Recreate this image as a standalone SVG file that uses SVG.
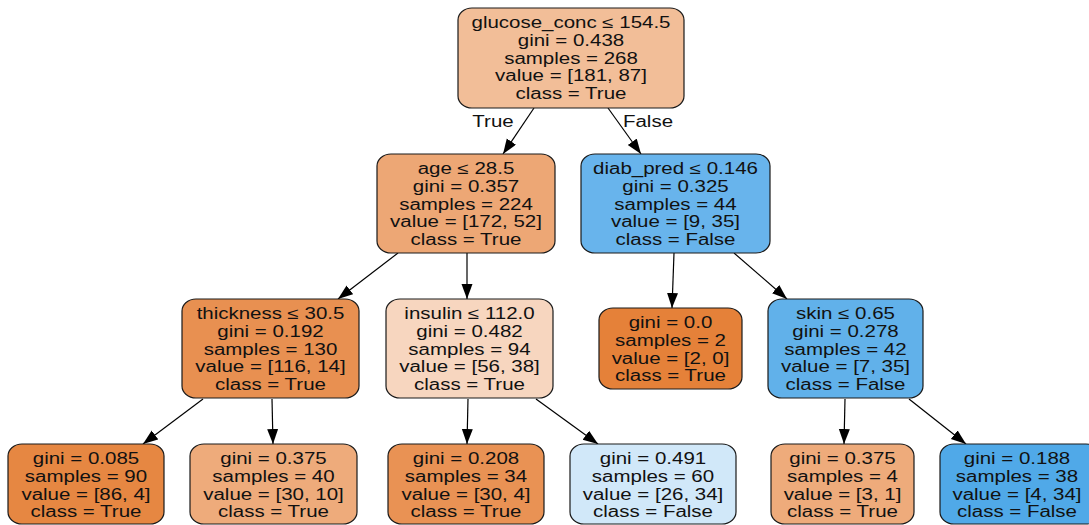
<svg xmlns="http://www.w3.org/2000/svg" width="1089" height="525" viewBox="0 0 1089 525">
<style>
.box{stroke:#1a1a1a;stroke-width:1.2}
text{font-family:"Liberation Sans",Arial,Helvetica,sans-serif;font-size:16px;fill:#111;text-anchor:middle}
.edge{stroke:#000;stroke-width:1.2;fill:none;marker-end:url(#ah)}
</style>
<defs>
<marker id="ah" markerUnits="userSpaceOnUse" markerWidth="16" markerHeight="12" refX="15" refY="5.5" orient="auto">
<path d="M0,0 L15,5.5 L0,11 Z" fill="#000"/>
</marker>
</defs>
<rect width="1089" height="525" fill="#fff"/>
<g id="connectors">
<line class="edge" x1="534" y1="108" x2="503" y2="154"/>
<line class="edge" x1="608" y1="108" x2="641" y2="154"/>
<line class="edge" x1="398" y1="253" x2="338" y2="299"/>
<line class="edge" x1="467" y1="253" x2="467" y2="299"/>
<line class="edge" x1="674" y1="253" x2="672" y2="308"/>
<line class="edge" x1="734" y1="253" x2="787" y2="299"/>
<line class="edge" x1="203" y1="399" x2="143" y2="444"/>
<line class="edge" x1="272" y1="399" x2="273" y2="444"/>
<line class="edge" x1="468" y1="399" x2="467" y2="444"/>
<line class="edge" x1="536" y1="399" x2="598" y2="444"/>
<line class="edge" x1="845" y1="399" x2="844" y2="444"/>
<line class="edge" x1="909" y1="399" x2="966" y2="444"/>
<g transform="translate(493,127) scale(1.28,1)"><text x="0" y="0">True</text></g>
<g transform="translate(648,127) scale(1.28,1)"><text x="0" y="0">False</text></g>
</g>
<g id="node-root">
<rect class="box" x="458" y="8" width="226" height="100" rx="14" ry="12" fill="#F2BE98"/>
<g transform="translate(571,0) scale(1.28,1)">
<text x="0" y="28">glucose_conc ≤ 154.5</text>
<text x="0" y="45.8">gini = 0.438</text>
<text x="0" y="63.6">samples = 268</text>
<text x="0" y="81.4">value = [181, 87]</text>
<text x="0" y="99.2">class = True</text>
</g>
</g>
<g id="node-age">
<rect class="box" x="377" y="154" width="178" height="99" rx="14" ry="12" fill="#EDA775"/>
<g transform="translate(466,0) scale(1.28,1)">
<text x="0" y="174">age ≤ 28.5</text>
<text x="0" y="191.8">gini = 0.357</text>
<text x="0" y="209.6">samples = 224</text>
<text x="0" y="227.4">value = [172, 52]</text>
<text x="0" y="245.2">class = True</text>
</g>
</g>
<g id="node-diab">
<rect class="box" x="581" y="154" width="189" height="99" rx="14" ry="12" fill="#68B4EC"/>
<g transform="translate(675.5,0) scale(1.28,1)">
<text x="0" y="174">diab_pred ≤ 0.146</text>
<text x="0" y="191.8">gini = 0.325</text>
<text x="0" y="209.6">samples = 44</text>
<text x="0" y="227.4">value = [9, 35]</text>
<text x="0" y="245.2">class = False</text>
</g>
</g>
<g id="node-thickness">
<rect class="box" x="182" y="299" width="177" height="99" rx="14" ry="12" fill="#E89051"/>
<g transform="translate(270.5,0) scale(1.28,1)">
<text x="0" y="319">thickness ≤ 30.5</text>
<text x="0" y="336.8">gini = 0.192</text>
<text x="0" y="354.6">samples = 130</text>
<text x="0" y="372.4">value = [116, 14]</text>
<text x="0" y="390.2">class = True</text>
</g>
</g>
<g id="node-insulin">
<rect class="box" x="386" y="299" width="167" height="99" rx="14" ry="12" fill="#F7D6BF"/>
<g transform="translate(469.5,0) scale(1.28,1)">
<text x="0" y="319">insulin ≤ 112.0</text>
<text x="0" y="336.8">gini = 0.482</text>
<text x="0" y="354.6">samples = 94</text>
<text x="0" y="372.4">value = [56, 38]</text>
<text x="0" y="390.2">class = True</text>
</g>
</g>
<g id="node-gini0">
<rect class="box" x="599" y="308" width="143" height="81" rx="14" ry="12" fill="#E58139"/>
<g transform="translate(670.5,0) scale(1.28,1)">
<text x="0" y="328">gini = 0.0</text>
<text x="0" y="345.8">samples = 2</text>
<text x="0" y="363.6">value = [2, 0]</text>
<text x="0" y="381.4">class = True</text>
</g>
</g>
<g id="node-skin">
<rect class="box" x="768" y="299" width="155" height="99" rx="14" ry="12" fill="#61B1EA"/>
<g transform="translate(845.5,0) scale(1.28,1)">
<text x="0" y="319">skin ≤ 0.65</text>
<text x="0" y="336.8">gini = 0.278</text>
<text x="0" y="354.6">samples = 42</text>
<text x="0" y="372.4">value = [7, 35]</text>
<text x="0" y="390.2">class = False</text>
</g>
</g>
<g id="leaf-1">
<rect class="box" x="8" y="444" width="156" height="80" rx="14" ry="12" fill="#E68742"/>
<g transform="translate(86,0) scale(1.28,1)">
<text x="0" y="464">gini = 0.085</text>
<text x="0" y="481.8">samples = 90</text>
<text x="0" y="499.6">value = [86, 4]</text>
<text x="0" y="517.4">class = True</text>
</g>
</g>
<g id="leaf-2">
<rect class="box" x="190" y="444" width="167" height="80" rx="14" ry="12" fill="#EEAB7B"/>
<g transform="translate(273.5,0) scale(1.28,1)">
<text x="0" y="464">gini = 0.375</text>
<text x="0" y="481.8">samples = 40</text>
<text x="0" y="499.6">value = [30, 10]</text>
<text x="0" y="517.4">class = True</text>
</g>
</g>
<g id="leaf-3">
<rect class="box" x="388" y="444" width="156" height="80" rx="14" ry="12" fill="#E99254"/>
<g transform="translate(466,0) scale(1.28,1)">
<text x="0" y="464">gini = 0.208</text>
<text x="0" y="481.8">samples = 34</text>
<text x="0" y="499.6">value = [30, 4]</text>
<text x="0" y="517.4">class = True</text>
</g>
</g>
<g id="leaf-4">
<rect class="box" x="570" y="444" width="166" height="80" rx="14" ry="12" fill="#D1E8F9"/>
<g transform="translate(653,0) scale(1.28,1)">
<text x="0" y="464">gini = 0.491</text>
<text x="0" y="481.8">samples = 60</text>
<text x="0" y="499.6">value = [26, 34]</text>
<text x="0" y="517.4">class = False</text>
</g>
</g>
<g id="leaf-5">
<rect class="box" x="771" y="444" width="143" height="80" rx="14" ry="12" fill="#EEAB7B"/>
<g transform="translate(842.5,0) scale(1.28,1)">
<text x="0" y="464">gini = 0.375</text>
<text x="0" y="481.8">samples = 4</text>
<text x="0" y="499.6">value = [3, 1]</text>
<text x="0" y="517.4">class = True</text>
</g>
</g>
<g id="leaf-6">
<rect class="box" x="940" y="444" width="160" height="80" rx="14" ry="12" fill="#50A9E8"/>
<g transform="translate(1017,0) scale(1.28,1)">
<text x="0" y="464">gini = 0.188</text>
<text x="0" y="481.8">samples = 38</text>
<text x="0" y="499.6">value = [4, 34]</text>
<text x="0" y="517.4">class = False</text>
</g>
</g>
</svg>
